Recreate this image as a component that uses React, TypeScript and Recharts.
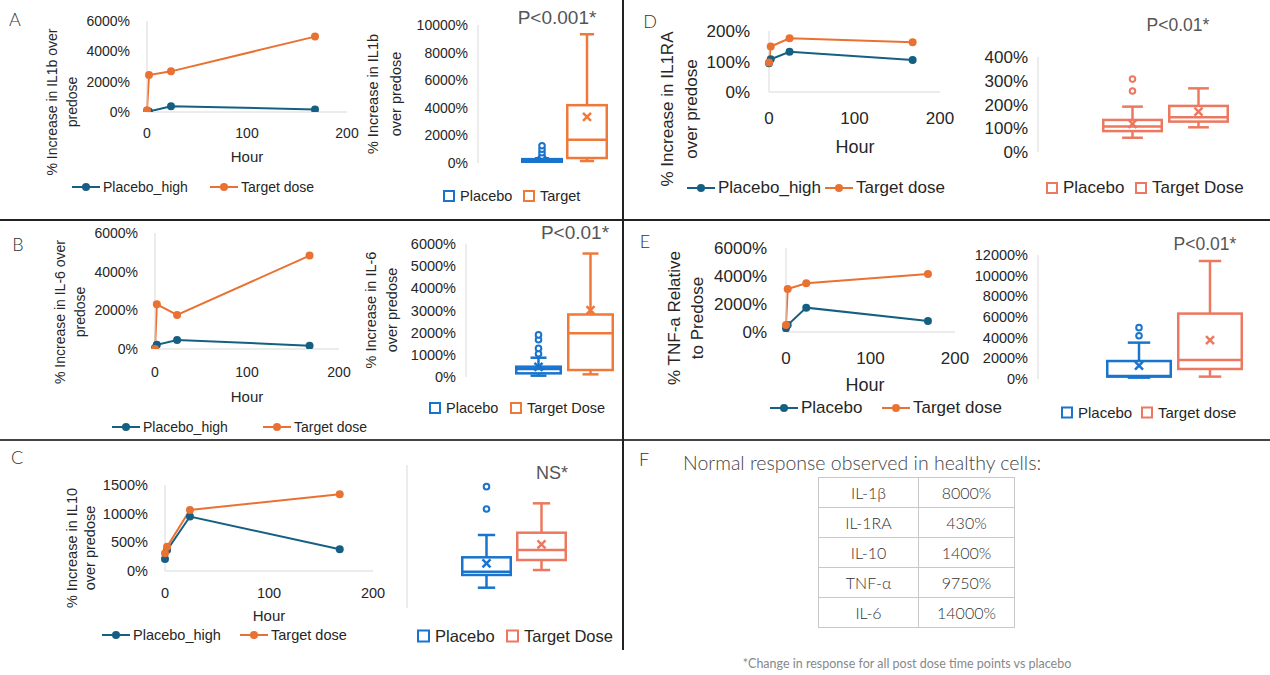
import React from "react";
import { LineChart, Line, XAxis, YAxis, ComposedChart, Bar } from "recharts";

// ---- data ----
const HOURS = [0, 2, 24, 168];
const HOUR_TICKS = [0, 100, 200];

const IL1B_PLACEBO_HIGH = [50, 30, 380, 170];
const IL1B_TARGET = [120, 2440, 2680, 4970];
const IL6_PLACEBO_HIGH = [50, 220, 470, 170];
const IL6_TARGET = [0, 2310, 1760, 4830];
const IL10_PLACEBO_HIGH = [210, 365, 950, 380];
const IL10_TARGET = [310, 425, 1065, 1340];
const IL1RA_PLACEBO_HIGH = [94, 107, 132, 105];
const IL1RA_TARGET = [97, 149, 176, 163];
const TNF_PLACEBO = [260, 500, 1740, 790];
const TNF_TARGET = [500, 3070, 3480, 4140];

type BoxStats = { min: number; q1: number; median: number; q3: number; max: number; mean: number; outliers: number[] };

const IL1B_BOX_PLACEBO: BoxStats = { min: 0, q1: 50, median: 150, q3: 280, max: 350, mean: 200, outliers: [500, 750, 1000, 1250] };
const IL1B_BOX_TARGET: BoxStats = { min: 140, q1: 360, median: 1690, q3: 4190, max: 9330, mean: 3350, outliers: [] };
const IL6_BOX_PLACEBO: BoxStats = { min: 60, q1: 165, median: 360, q3: 465, max: 870, mean: 460, outliers: [1050, 1290, 1680, 1900] };
const IL6_BOX_TARGET: BoxStats = { min: 120, q1: 315, median: 1970, q3: 2820, max: 5570, mean: 3020, outliers: [] };
const IL10_BOX_PLACEBO: BoxStats = { min: -116, q1: 62, median: 108, q3: 309, max: 621, mean: 225, outliers: [985, 1297] };
const IL10_BOX_TARGET: BoxStats = { min: 131, q1: 271, median: 411, q3: 653, max: 1064, mean: 491, outliers: [] };
const IL1RA_BOX_PLACEBO: BoxStats = { min: 60, q1: 88, median: 107, q3: 135, max: 191, mean: 118, outliers: [257, 307] };
const IL1RA_BOX_TARGET: BoxStats = { min: 104, q1: 128, median: 146, q3: 194, max: 268, mean: 170, outliers: [] };
const TNF_BOX_PLACEBO: BoxStats = { min: 130, q1: 230, median: 300, q3: 1740, max: 3520, mean: 1290, outliers: [4190, 4970] };
const TNF_BOX_TARGET: BoxStats = { min: 230, q1: 970, median: 1840, q3: 6330, max: 11420, mean: 3770, outliers: [] };

const TABLE_CYTOKINES = ["IL-1β", "IL-1RA", "IL-10", "TNF-α", "IL-6"];
const TABLE_RESPONSES = ["8000%", "430%", "1400%", "9750%", "14000%"];

// ---- styles ----
const FONT = "'Liberation Sans', Arial, sans-serif";
const SOFT = "Lato, 'Noto Sans', sans-serif";
const INK = "#262626";
const AXIS = "#d9d9d9";
const LINE_BLUE = "#156082";
const LINE_ORANGE = "#E97132";
const BOX_BLUE = "#1874CD";
const BOX_ORANGE = "#F0793A";
const BOX_SALMON = "#EC7860";

const pct = (v: number) => `${v}%`;

function toRows(placebo: number[], target: number[]) {
  return HOURS.map((h, i) => ({ hour: h, placebo: placebo[i], target: target[i] }));
}

type LinePanelProps = {
  x0: number; top: number; w: number; h: number;
  yMax: number; yTicks: number[]; fs: number; yGap: number; xGap: number;
  placebo: number[]; target: number[];
};

function LinePanel(p: LinePanelProps) {
  const YW = 100, MT = 12, MR = 22, XH = 50;
  const data = toRows(p.placebo, p.target);
  const tick = { fill: INK, fontSize: p.fs, fontFamily: FONT };
  const dot = (c: string) => ({ r: 4, fill: c, stroke: c, strokeWidth: 0 });
  return (
    <div style={{ position: "absolute", left: p.x0 - YW, top: p.top - MT }}>
      <LineChart width={YW + p.w + MR} height={MT + p.h + XH} data={data} margin={{ top: MT, right: MR, bottom: 0, left: 0 }}>
        <XAxis type="number" dataKey="hour" domain={[0, 200]} ticks={HOUR_TICKS} interval={0} height={XH}
          axisLine={{ stroke: AXIS }} tickLine={false} tickSize={0} tickMargin={p.xGap - 0.36 * p.fs} tick={tick} />
        <YAxis type="number" domain={[0, p.yMax]} ticks={p.yTicks} interval={0} width={YW} allowDataOverflow
          axisLine={{ stroke: AXIS }} tickLine={false} tickSize={0} tickMargin={p.yGap} tick={tick} tickFormatter={pct} />
        <Line dataKey="placebo" stroke={LINE_BLUE} strokeWidth={2} dot={dot(LINE_BLUE)} activeDot={false} isAnimationActive={false} />
        <Line dataKey="target" stroke={LINE_ORANGE} strokeWidth={2} dot={dot(LINE_ORANGE)} activeDot={false} isAnimationActive={false} />
      </LineChart>
    </div>
  );
}

function BoxShape(props: any) {
  const { x, y, width, height, stats, color } = props;
  const s: BoxStats = stats;
  const lo = Math.min(s.min, ...s.outliers);
  const hi = Math.max(s.max, ...s.outliers);
  const top = Math.min(y, y + height);
  const bottom = Math.max(y, y + height);
  const py = (v: number) => bottom - ((v - lo) / (hi - lo)) * (bottom - top);
  const cx = x + width / 2;
  const cap = width * 0.17;
  const sw = 2.5;
  const m = 4;
  return (
    <g>
      <line x1={cx} x2={cx} y1={py(s.max)} y2={py(s.q3)} stroke={color} strokeWidth={sw} />
      <line x1={cx} x2={cx} y1={py(s.q1)} y2={py(s.min)} stroke={color} strokeWidth={sw} />
      <line x1={cx - cap} x2={cx + cap} y1={py(s.max)} y2={py(s.max)} stroke={color} strokeWidth={sw} />
      <line x1={cx - cap} x2={cx + cap} y1={py(s.min)} y2={py(s.min)} stroke={color} strokeWidth={sw} />
      <rect x={x + sw / 2} y={py(s.q3)} width={width - sw} height={Math.max(py(s.q1) - py(s.q3), 0.5)} fill="#fff" stroke={color} strokeWidth={sw} />
      <line x1={x + sw / 2} x2={x + width - sw / 2} y1={py(s.median)} y2={py(s.median)} stroke={color} strokeWidth={sw} />
      <line x1={cx - m} x2={cx + m} y1={py(s.mean) - m} y2={py(s.mean) + m} stroke={color} strokeWidth={sw} />
      <line x1={cx - m} x2={cx + m} y1={py(s.mean) + m} y2={py(s.mean) - m} stroke={color} strokeWidth={sw} />
      {s.outliers.map((o, i) => (
        <circle key={i} cx={cx} cy={py(o)} r={2.8} fill="#fff" stroke={color} strokeWidth={2} />
      ))}
    </g>
  );
}

type BoxPanelProps = {
  axisX: number; top: number; h: number; right: number;
  domain: number[]; ticks?: number[]; fs: number;
  boxW: number; gap: number;
  placebo: BoxStats; target: BoxStats; placeboColor: string; targetColor: string;
};

function BoxPanel(p: BoxPanelProps) {
  const YW = 90, MT = 10, MB = 10;
  const span = (s: BoxStats) => [Math.min(s.min, ...s.outliers), Math.max(s.max, ...s.outliers)];
  const data = [{ group: "all", placebo: span(p.placebo), target: span(p.target) }];
  return (
    <div style={{ position: "absolute", left: p.axisX - YW, top: p.top - MT }}>
      <ComposedChart width={YW + p.right - p.axisX} height={MT + p.h + MB} data={data}
        margin={{ top: MT, right: 0, bottom: MB, left: 0 }} barGap={p.gap} barCategoryGap={0}>
        <XAxis dataKey="group" hide />
        <YAxis type="number" domain={p.domain} ticks={p.ticks} interval={0} width={YW} allowDataOverflow
          axisLine={{ stroke: AXIS }} tickLine={false} tickSize={0} tickMargin={10}
          tick={p.ticks ? { fill: INK, fontSize: p.fs, fontFamily: FONT } : false} tickFormatter={pct} />
        <Bar dataKey="placebo" barSize={p.boxW} isAnimationActive={false}
          shape={(sp: any) => <BoxShape {...sp} stats={p.placebo} color={p.placeboColor} />} />
        <Bar dataKey="target" barSize={p.boxW} isAnimationActive={false}
          shape={(sp: any) => <BoxShape {...sp} stats={p.target} color={p.targetColor} />} />
      </ComposedChart>
    </div>
  );
}

function Txt({ x, y, fs, children, color = INK, family = FONT, weight = 400, anchor = "middle" }: any) {
  const tx = anchor === "middle" ? "-50%" : anchor === "end" ? "-100%" : "0";
  return (
    <div style={{ position: "absolute", left: x, top: y, transform: `translate(${tx},-50%)`, fontSize: fs, fontFamily: family,
      fontWeight: weight, color, whiteSpace: "nowrap", lineHeight: 1.15 }}>{children}</div>
  );
}

function VTitle({ cx, cy, lines, fs, lh }: { cx: number; cy: number; lines: string[]; fs: number; lh: number }) {
  return (
    <div style={{ position: "absolute", left: cx, top: cy, transform: "translate(-50%,-50%) rotate(-90deg)", fontSize: fs,
      lineHeight: `${lh}px`, textAlign: "center", whiteSpace: "nowrap", color: INK, fontFamily: FONT }}>
      {lines.map((l) => <div key={l}>{l}</div>)}
    </div>
  );
}

function LineKey({ x, y, color, label, fs }: any) {
  return (
    <div style={{ position: "absolute", left: x, top: y, transform: "translateY(-50%)", display: "flex", alignItems: "center",
      fontSize: fs, fontFamily: FONT, color: INK, whiteSpace: "nowrap" }}>
      <svg width={28} height={10}>
        <line x1={0} y1={5} x2={28} y2={5} stroke={color} strokeWidth={2} />
        <circle cx={14} cy={5} r={4} fill={color} />
      </svg>
      <span style={{ marginLeft: 3 }}>{label}</span>
    </div>
  );
}

function BoxKey({ x, y, color, label, fs, sq = 12 }: any) {
  return (
    <div style={{ position: "absolute", left: x, top: y, transform: "translateY(-50%)", display: "flex", alignItems: "center",
      fontSize: fs, fontFamily: FONT, color: INK, whiteSpace: "nowrap" }}>
      <span style={{ width: sq, height: sq, boxSizing: "border-box", border: `2.5px solid ${color}`, display: "inline-block" }} />
      <span style={{ marginLeft: 5 }}>{label}</span>
    </div>
  );
}

function Letter({ x, y, children }: any) {
  return <Txt x={x} y={y} fs={18} family={SOFT} weight={300} color="#333">{children}</Txt>;
}

export default function App() {
  return (
    <div style={{ position: "fixed", left: 0, top: 0, width: 1270, height: 675, overflow: "hidden", background: "#fff" }}>
      {/* ---------- A ---------- */}
      <Letter x={15} y={19}>A</Letter>
      <LinePanel x0={147} top={21} w={200} h={91} yMax={6000} yTicks={[0, 2000, 4000, 6000]} fs={14} yGap={17} xGap={21}
        placebo={IL1B_PLACEBO_HIGH} target={IL1B_TARGET} />
      <VTitle cx={62} cy={102} lines={["% Increase in IL1b over", "predose"]} fs={14} lh={20} />
      <Txt x={247} y={157} fs={15}>Hour</Txt>
      <LineKey x={72} y={187} color={LINE_BLUE} label="Placebo_high" fs={14} />
      <LineKey x={210} y={187} color={LINE_ORANGE} label="Target dose" fs={14} />

      <BoxPanel axisX={478} top={25} h={138} right={651} domain={[0, 10000]} ticks={[0, 2000, 4000, 6000, 8000, 10000]} fs={14}
        boxW={42} gap={3} placebo={IL1B_BOX_PLACEBO} target={IL1B_BOX_TARGET} placeboColor={BOX_BLUE} targetColor={BOX_ORANGE} />
      <VTitle cx={385} cy={94} lines={["% Increase in IL1b", "over predose"]} fs={14.5} lh={23} />
      <Txt x={557} y={18} fs={19} color="#555">P&lt;0.001*</Txt>
      <BoxKey x={443} y={196} color={BOX_BLUE} label="Placebo" fs={14.5} />
      <BoxKey x={523} y={196} color={BOX_ORANGE} label="Target" fs={14.5} />

      {/* ---------- B ---------- */}
      <Letter x={18} y={244}>B</Letter>
      <LinePanel x0={155} top={233} w={184} h={116} yMax={6000} yTicks={[0, 2000, 4000, 6000]} fs={14} yGap={17} xGap={23}
        placebo={IL6_PLACEBO_HIGH} target={IL6_TARGET} />
      <VTitle cx={70} cy={312} lines={["% Increase in IL-6 over", "predose"]} fs={14} lh={20} />
      <Txt x={247} y={397} fs={15}>Hour</Txt>
      <LineKey x={112} y={427} color={LINE_BLUE} label="Placebo_high" fs={14} />
      <LineKey x={263} y={427} color={LINE_ORANGE} label="Target dose" fs={14} />

      <BoxPanel axisX={466} top={244} h={133} right={662} domain={[0, 6000]} ticks={[0, 1000, 2000, 3000, 4000, 5000, 6000]} fs={14.5}
        boxW={47} gap={5} placebo={IL6_BOX_PLACEBO} target={IL6_BOX_TARGET} placeboColor={BOX_BLUE} targetColor={BOX_ORANGE} />
      <VTitle cx={382} cy={310} lines={["% Increase in IL-6", "over predose"]} fs={14.5} lh={21} />
      <Txt x={575} y={233} fs={19} color="#555">P&lt;0.01*</Txt>
      <BoxKey x={429} y={408} color={BOX_BLUE} label="Placebo" fs={14.5} />
      <BoxKey x={510} y={408} color={BOX_ORANGE} label="Target Dose" fs={14.5} />

      {/* ---------- C ---------- */}
      <Letter x={17} y={457}>C</Letter>
      <LinePanel x0={165} top={485} w={208} h={86} yMax={1500} yTicks={[0, 500, 1000, 1500]} fs={14.5} yGap={17} xGap={22}
        placebo={IL10_PLACEBO_HIGH} target={IL10_TARGET} />
      <VTitle cx={81} cy={548} lines={["% Increase in IL10", "over predose"]} fs={14.5} lh={18} />
      <Txt x={269} y={616} fs={15}>Hour</Txt>
      <LineKey x={102} y={635} color={LINE_BLUE} label="Placebo_high" fs={14.5} />
      <LineKey x={240} y={635} color={LINE_ORANGE} label="Target dose" fs={14.5} />

      <BoxPanel axisX={407} top={465} h={143} right={620} domain={[-400, 1600]} fs={14}
        boxW={51} gap={4} placebo={IL10_BOX_PLACEBO} target={IL10_BOX_TARGET} placeboColor={BOX_BLUE} targetColor={BOX_SALMON} />
      <Txt x={552} y={473} fs={18} color="#555">NS*</Txt>
      <BoxKey x={417} y={636} color={BOX_BLUE} label="Placebo" fs={16.5} sq={13} />
      <BoxKey x={506} y={636} color={BOX_SALMON} label="Target Dose" fs={16.5} sq={13} />

      {/* ---------- D ---------- */}
      <Letter x={650} y={21}>D</Letter>
      <LinePanel x0={769} top={31} w={171} h={61} yMax={200} yTicks={[0, 100, 200]} fs={17} yGap={19} xGap={26}
        placebo={IL1RA_PLACEBO_HIGH} target={IL1RA_TARGET} />
      <VTitle cx={680} cy={109} lines={["% Increase in IL1RA", "over predose"]} fs={17} lh={24} />
      <Txt x={855} y={147} fs={18}>Hour</Txt>
      <LineKey x={687} y={188} color={LINE_BLUE} label="Placebo_high" fs={17} />
      <LineKey x={825} y={188} color={LINE_ORANGE} label="Target dose" fs={17} />

      <BoxPanel axisX={1038} top={57} h={95} right={1292} domain={[0, 400]} ticks={[0, 100, 200, 300, 400]} fs={17}
        boxW={61} gap={5} placebo={IL1RA_BOX_PLACEBO} target={IL1RA_BOX_TARGET} placeboColor={BOX_SALMON} targetColor={BOX_SALMON} />
      <Txt x={1178} y={25} fs={17.5} color="#555">P&lt;0.01*</Txt>
      <BoxKey x={1046} y={188} color={BOX_SALMON} label="Placebo" fs={17} />
      <BoxKey x={1135} y={188} color={BOX_SALMON} label="Target Dose" fs={17} />

      {/* ---------- E ---------- */}
      <Letter x={645} y={241}>E</Letter>
      <LinePanel x0={786} top={248} w={169} h={84} yMax={6000} yTicks={[0, 2000, 4000, 6000]} fs={17} yGap={19} xGap={26}
        placebo={TNF_PLACEBO} target={TNF_TARGET} />
      <VTitle cx={686} cy={318} lines={["% TNF-a Relative", "to Predose"]} fs={17} lh={23} />
      <Txt x={865} y={385} fs={18}>Hour</Txt>
      <LineKey x={770} y={408} color={LINE_BLUE} label="Placebo" fs={17} />
      <LineKey x={882} y={408} color={LINE_ORANGE} label="Target dose" fs={17} />

      <BoxPanel axisX={1038} top={255} h={124} right={1311} domain={[0, 12000]} ticks={[0, 2000, 4000, 6000, 8000, 10000, 12000]} fs={14.5}
        boxW={66} gap={5} placebo={TNF_BOX_PLACEBO} target={TNF_BOX_TARGET} placeboColor={BOX_BLUE} targetColor={BOX_SALMON} />
      <Txt x={1205} y={244} fs={17.5} color="#555">P&lt;0.01*</Txt>
      <BoxKey x={1061} y={412} color={BOX_BLUE} label="Placebo" fs={15} />
      <BoxKey x={1141} y={412} color={BOX_SALMON} label="Target dose" fs={15} />

      {/* ---------- F ---------- */}
      <Letter x={644} y={459}>F</Letter>
      <Txt x={683} y={463} fs={19.5} family={SOFT} weight={300} color="#444" anchor="start">Normal response observed in healthy cells:</Txt>
      <table style={{ position: "absolute", left: 818, top: 477, width: 197, borderCollapse: "collapse", fontFamily: SOFT,
        fontWeight: 300, fontSize: 16, color: "#333" }}>
        <tbody>
          {TABLE_CYTOKINES.map((c, i) => (
            <tr key={c} style={{ height: 30 }}>
              <td style={{ border: "1px solid #c8c8c8", textAlign: "center", width: 99, padding: 0 }}>{c}</td>
              <td style={{ border: "1px solid #c8c8c8", textAlign: "center", padding: 0 }}>{TABLE_RESPONSES[i]}</td>
            </tr>
          ))}
        </tbody>
      </table>
      <Txt x={907} y={664} fs={12.5} family={SOFT} weight={400} color="#888">*Change in response for all post dose time points vs placebo</Txt>

      {/* ---------- dividers ---------- */}
      <div style={{ position: "absolute", left: 0, top: 219, width: 1270, height: 2, background: "#222" }} />
      <div style={{ position: "absolute", left: 0, top: 439, width: 1270, height: 2, background: "#444" }} />
      <div style={{ position: "absolute", left: 622, top: 0, width: 2, height: 650, background: "#222" }} />
    </div>
  );
}
